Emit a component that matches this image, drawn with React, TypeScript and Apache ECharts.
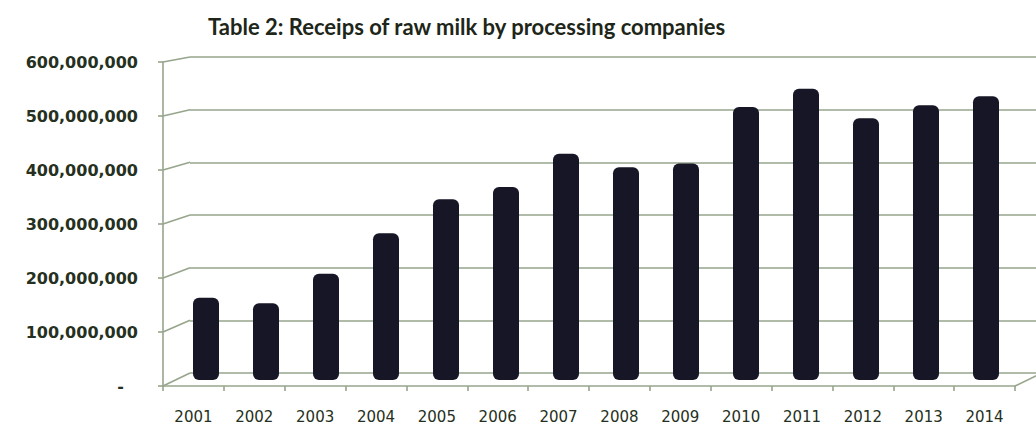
import React, { useEffect, useRef } from 'react';
import * as echarts from 'echarts';

const chartTitle = 'Table 2: Receips of raw milk by processing companies';
const years = ['2001', '2002', '2003', '2004', '2005', '2006', '2007', '2008', '2009', '2010', '2011', '2012', '2013', '2014'];
const receipts = [154e6, 144e6, 199e6, 275e6, 339e6, 362e6, 424e6, 399e6, 406e6, 512e6, 546e6, 491e6, 515e6, 532e6];
const yMin = 0;
const yMax = 600000000;
const yStep = 100000000;

export default function App() {
  const ref = useRef<HTMLDivElement>(null);
  useEffect(() => {
    const chart = echarts.init(ref.current!, null, { renderer: 'svg' });
    const GRID = '#96a58c';
    const TEXT = '#253020';
    const FRONT = { left: 163, top: 62, width: 852, height: 324 };
    const BACK = { left: 190, top: 57, right: 0, height: 316 };
    const MID = { left: 176, top: 60, width: 840, height: 320 };
    const gl = { color: GRID, width: 1.6 };
    chart.setOption({
      animation: false,
      backgroundColor: '#ffffff',
      title: {
        text: chartTitle,
        left: 203,
        top: 10,
        textStyle: { fontFamily: 'Lato', fontWeight: 'bold', fontSize: 22, color: '#1d2618' },
      },
      grid: [FRONT, BACK, MID],
      xAxis: [
        {
          gridIndex: 0,
          type: 'category',
          data: years,
          axisLine: { show: true, lineStyle: gl },
          axisTick: { show: true, length: 5, lineStyle: gl },
          axisLabel: { margin: 23, color: TEXT, fontFamily: 'DejaVu Sans', fontSize: 15 },
          splitLine: { show: false },
        },
        { gridIndex: 1, type: 'category', data: years, show: false },
        { gridIndex: 2, type: 'category', data: years, show: false },
      ],
      yAxis: [
        {
          gridIndex: 0,
          type: 'value',
          min: yMin,
          max: yMax,
          interval: yStep,
          axisLine: { show: true, lineStyle: gl },
          axisTick: { show: true, length: 5, lineStyle: gl },
          splitLine: { show: false },
          axisLabel: {
            margin: 25,
            color: TEXT,
            fontFamily: 'DejaVu Sans',
            fontWeight: 'bold',
            fontSize: 16,
            formatter: (v: number) => (v === 0 ? '{d|-}' : v.toLocaleString('en-US')),
            rich: {
              d: { fontFamily: 'DejaVu Sans', fontWeight: 'bold', fontSize: 16, color: TEXT, padding: [0, 14, 0, 0] },
            },
          },
        },
        {
          gridIndex: 1,
          type: 'value',
          min: yMin,
          max: yMax,
          interval: yStep,
          axisLine: { show: false },
          axisTick: { show: false },
          axisLabel: { show: false },
          splitLine: { show: true, lineStyle: gl },
        },
        { gridIndex: 2, type: 'value', min: yMin, max: yMax, interval: yStep, show: false, splitLine: { show: false } },
      ],
      series: [
        {
          type: 'bar',
          xAxisIndex: 2,
          yAxisIndex: 2,
          data: receipts,
          barWidth: 26,
          itemStyle: { color: '#161626', borderRadius: 6 },
        },
      ],
    });

    const lines: any[] = [];
    for (let v = yMin; v <= yMax; v += yStep) {
      const yf = chart.convertToPixel({ yAxisIndex: 0 } as any, v) as number;
      const yb = chart.convertToPixel({ yAxisIndex: 1 } as any, v) as number;
      lines.push({
        type: 'line',
        silent: true,
        shape: { x1: FRONT.left, y1: yf, x2: BACK.left, y2: yb },
        style: { stroke: GRID, lineWidth: 1.6 },
      });
    }
    const y0f = chart.convertToPixel({ yAxisIndex: 0 } as any, yMin) as number;
    const y0b = chart.convertToPixel({ yAxisIndex: 1 } as any, yMin) as number;
    const xr = FRONT.left + FRONT.width;
    lines.push({
      type: 'line',
      silent: true,
      shape: { x1: xr, y1: y0f, x2: xr + (BACK.left - FRONT.left), y2: y0b },
      style: { stroke: GRID, lineWidth: 1.6 },
    });
    chart.setOption({ graphic: lines });

    return () => chart.dispose();
  }, []);
  return <div ref={ref} style={{ position: 'fixed', left: 0, top: 0, width: 1036, height: 436 }} />;
}
